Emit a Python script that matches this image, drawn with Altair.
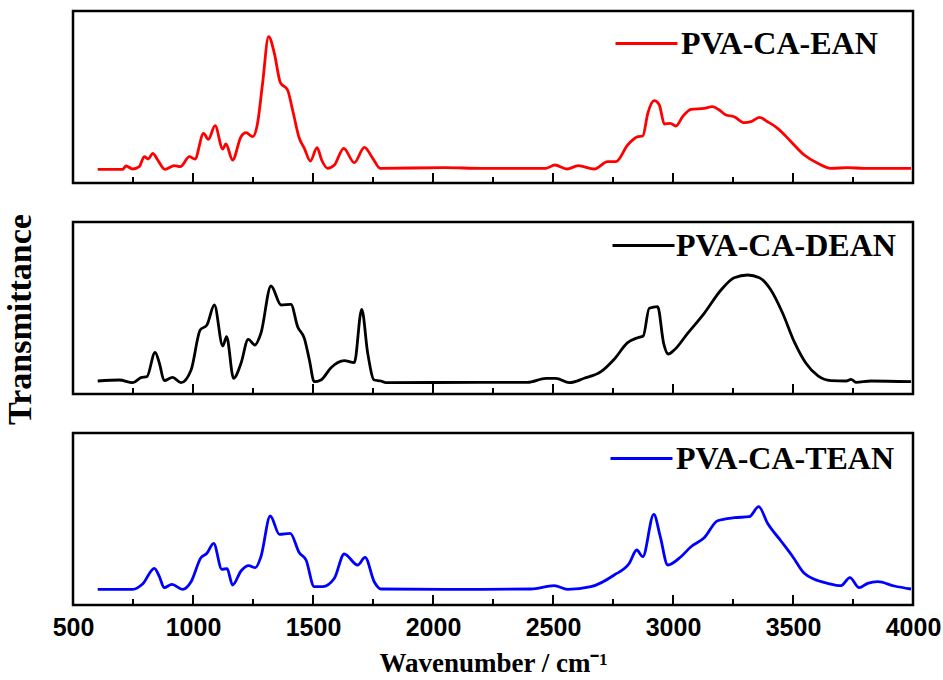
import altair as alt
import pandas as pd

# ---- data ----
ean_x = [603, 707, 721, 749, 776, 797, 814, 832, 853, 883, 922, 947, 985, 1008, 1044, 1064, 1092, 1124, 1137, 1165,
         1200, 1221, 1249, 1269, 1290, 1315, 1339, 1364, 1394, 1415, 1443, 1464, 1489, 1517, 1536, 1561, 1589, 1628,
         1672, 1714, 1749, 1780, 2050, 2200, 2471, 2508, 2558, 2605, 2672, 2728, 2762, 2811, 2853, 2874, 2895, 2922,
         2943, 2964, 2989, 3012, 3040, 3075, 3130, 3165, 3193, 3221, 3255, 3297, 3325, 3360, 3394, 3436, 3492, 3547,
         3603, 3658, 3728, 3797, 3992]
ean_y = [13.7, 13.7, 17, 14, 16.3, 26.3, 24, 29.7, 23, 13.7, 17.3, 16.3, 26.3, 24, 49.7, 43.7, 57.3, 34, 39, 23,
         46.3, 50.3, 46.3, 59.7, 99.7, 146.3, 129.7, 100.3, 93, 73, 44.7, 34.7, 22, 35.3, 23, 14.7, 18, 34.7,
         20.3, 35.7, 24.7, 14.7, 15.3, 14.7, 14.7, 18, 14, 17.3, 14, 21.3, 21.3, 38, 46.3, 47, 69.7, 82.3,
         78, 59, 59.7, 57, 66.3, 73.7, 74.7, 76.3, 73, 68, 66.3, 60.3, 61.3, 65.7, 61.3, 54.7, 41.3, 28,
         19.7, 14.7, 15.3, 14.7, 14.7]

dean_x = [603, 693, 749, 783, 808, 842, 860, 880, 915, 950, 992, 1030, 1058, 1089, 1124, 1140, 1169, 1200, 1230,
          1258, 1283, 1325, 1367, 1408, 1436, 1464, 1485, 1505, 1533, 1575, 1630, 1672, 1703, 1728, 1755, 1783,
          1804, 2200, 2394, 2471, 2512, 2568, 2630, 2700, 2755, 2811, 2853, 2876, 2901, 2936, 2961, 2980, 3005,
          3061, 3130, 3200, 3255, 3311, 3360, 3408, 3457, 3505, 3554, 3603, 3658, 3721, 3742, 3762, 3825, 3992]
dean_y = [13, 14, 11.3, 16.3, 17.3, 41.7, 30.7, 13.3, 16.7, 11.3, 24, 64, 69, 89, 48, 57.3, 15.7, 30.7, 54.7,
          49, 60.7, 108, 89, 89.7, 67.3, 55.7, 34, 12.3, 14, 26.3, 33.3, 31.3, 84.7, 40.7, 14, 13,
          11.3, 11.7, 11.7, 15.7, 15.7, 11.3, 15.7, 22.3, 34.7, 51.3, 56.3, 58, 85.7, 87.3, 50.7, 40, 44,
          60.7, 80.7, 104, 116.3, 119, 116.3, 104, 80.7, 52.3, 30.7, 18.3, 13.3, 13, 14.7, 11.7, 13, 12.3]

tean_x = [603, 749, 790, 839, 860, 880, 912, 957, 992, 1033, 1058, 1086, 1120, 1142, 1165, 1200, 1232, 1260, 1283,
          1322, 1360, 1405, 1443, 1471, 1505, 1540, 1589, 1630, 1686, 1717, 1755, 1783, 2050, 2200, 2408, 2505,
          2561, 2658, 2755, 2818, 2849, 2874, 2920, 2947, 2978, 3033, 3075, 3130, 3186, 3255, 3318, 3357, 3394,
          3450, 3499, 3547, 3589, 3644, 3700, 3737, 3776, 3811, 3853, 3922, 3992]
tean_y = [15.7, 15.7, 21, 36.7, 28.3, 17.3, 20.7, 15.7, 23.3, 47.3, 51.7, 61.7, 35.7, 36.3, 20, 34, 39.3, 37.3, 48.3,
          89, 70.7, 71.7, 52.3, 45, 18.3, 18.3, 26.7, 51, 40, 47.7, 23.3, 16, 15.7, 15.7, 16, 19.3,
          15.7, 18.3, 30, 41.7, 55, 48.3, 90.7, 68.3, 40, 48.3, 58.3, 67.3, 84.3, 87.3, 88.3, 98.3, 81.7,
          64, 48.3, 31.7, 25.7, 21.7, 19.3, 27.3, 17.3, 21.7, 23.3, 19, 16]

names = ["PVA-CA-EAN", "PVA-CA-DEAN", "PVA-CA-TEAN"]
colors = ["#ff0000", "#000000", "#0000ff"]
major_ticks = [500, 1000, 1500, 2000, 2500, 3000, 3500, 4000]
minor_ticks = [750, 1250, 1750, 2250, 2750, 3250, 3750]

W, H = 840, 172
XDOM = [500, 4000]
YDOM = [0, 172]

ticks_df = pd.DataFrame({
    "t": major_ticks + minor_ticks,
    "len": [10] * len(major_ticks) + [6] * len(minor_ticks),
})
ticks_df["y_top"] = H - ticks_df["len"]

# legendX, legendY, labelOffset per panel
legend_pos = [(541, 0, 2), (538, -9, 0), (536, -7, 2)]


def panel(i, xs, ys, bottom=False, ytitle=False):
    df = pd.DataFrame({"wn": xs, "v": ys, "name": names[i]})
    if bottom:
        xaxis = alt.Axis(
            title="Wavenumber / cm\u207b\u00b9", values=major_ticks, format="d",
            labels=True, ticks=False, domain=False, grid=False, labelFlush=False,
            labelFont="Liberation Sans", labelFontWeight="bold", labelFontSize=25,
            labelColor="black", labelPadding=10,
            titleFont="Liberation Serif", titleFontWeight="bold", titleFontSize=27,
            titleColor="black", titlePadding=10,
        )
    else:
        xaxis = None
    if ytitle:
        yaxis = alt.Axis(
            title="Transmittance", labels=False, ticks=False, domain=False, grid=False,
            titleFont="Liberation Serif", titleFontWeight="bold", titleFontSize=34,
            titleColor="black", titlePadding=36, titleY=97,
        )
    else:
        yaxis = None
    lx, ly, loff = legend_pos[i]
    line = alt.Chart(df).mark_line(strokeWidth=2.8, interpolate="monotone", clip=True).encode(
        x=alt.X("wn:Q", scale=alt.Scale(domain=XDOM, nice=False, zero=False), axis=xaxis),
        y=alt.Y("v:Q", scale=alt.Scale(domain=YDOM, nice=False), axis=yaxis),
        color=alt.Color(
            "name:N",
            scale=alt.Scale(domain=[names[i]], range=[colors[i]]),
            legend=alt.Legend(
                orient="none", legendX=lx, legendY=ly, title=None, padding=0,
                symbolType="stroke", symbolSize=3844, symbolStrokeWidth=2.8,
                labelFont="Liberation Serif", labelFontWeight="bold", labelFontSize=32,
                labelColor="black", labelOffset=loff, labelLimit=400,
            ),
        ),
    )
    tick = alt.Chart(ticks_df).mark_rule(color="black", strokeWidth=2).encode(
        x=alt.X("t:Q", scale=alt.Scale(domain=XDOM, nice=False, zero=False)),
        y=alt.Y("y_top:Q", scale=None),
        y2=alt.Y2("y_bot:Q"),
    ).transform_calculate(y_bot=str(H))
    return alt.layer(line, tick).properties(width=W, height=H)


p1 = panel(0, ean_x, ean_y)
p2 = panel(1, dean_x, dean_y, ytitle=True)
p3 = panel(2, tean_x, tean_y, bottom=True)

chart = alt.vconcat(p1, p2, p3, spacing=39, bounds="flush").resolve_scale(
    color="independent", y="independent"
).resolve_legend(color="independent").properties(
    padding={"top": 9, "left": 1, "right": 0, "bottom": 0},
    background="white",
).configure_view(stroke="black", strokeWidth=2.5)

chart.save("out.html", embed_options={"renderer": "svg", "actions": False})
